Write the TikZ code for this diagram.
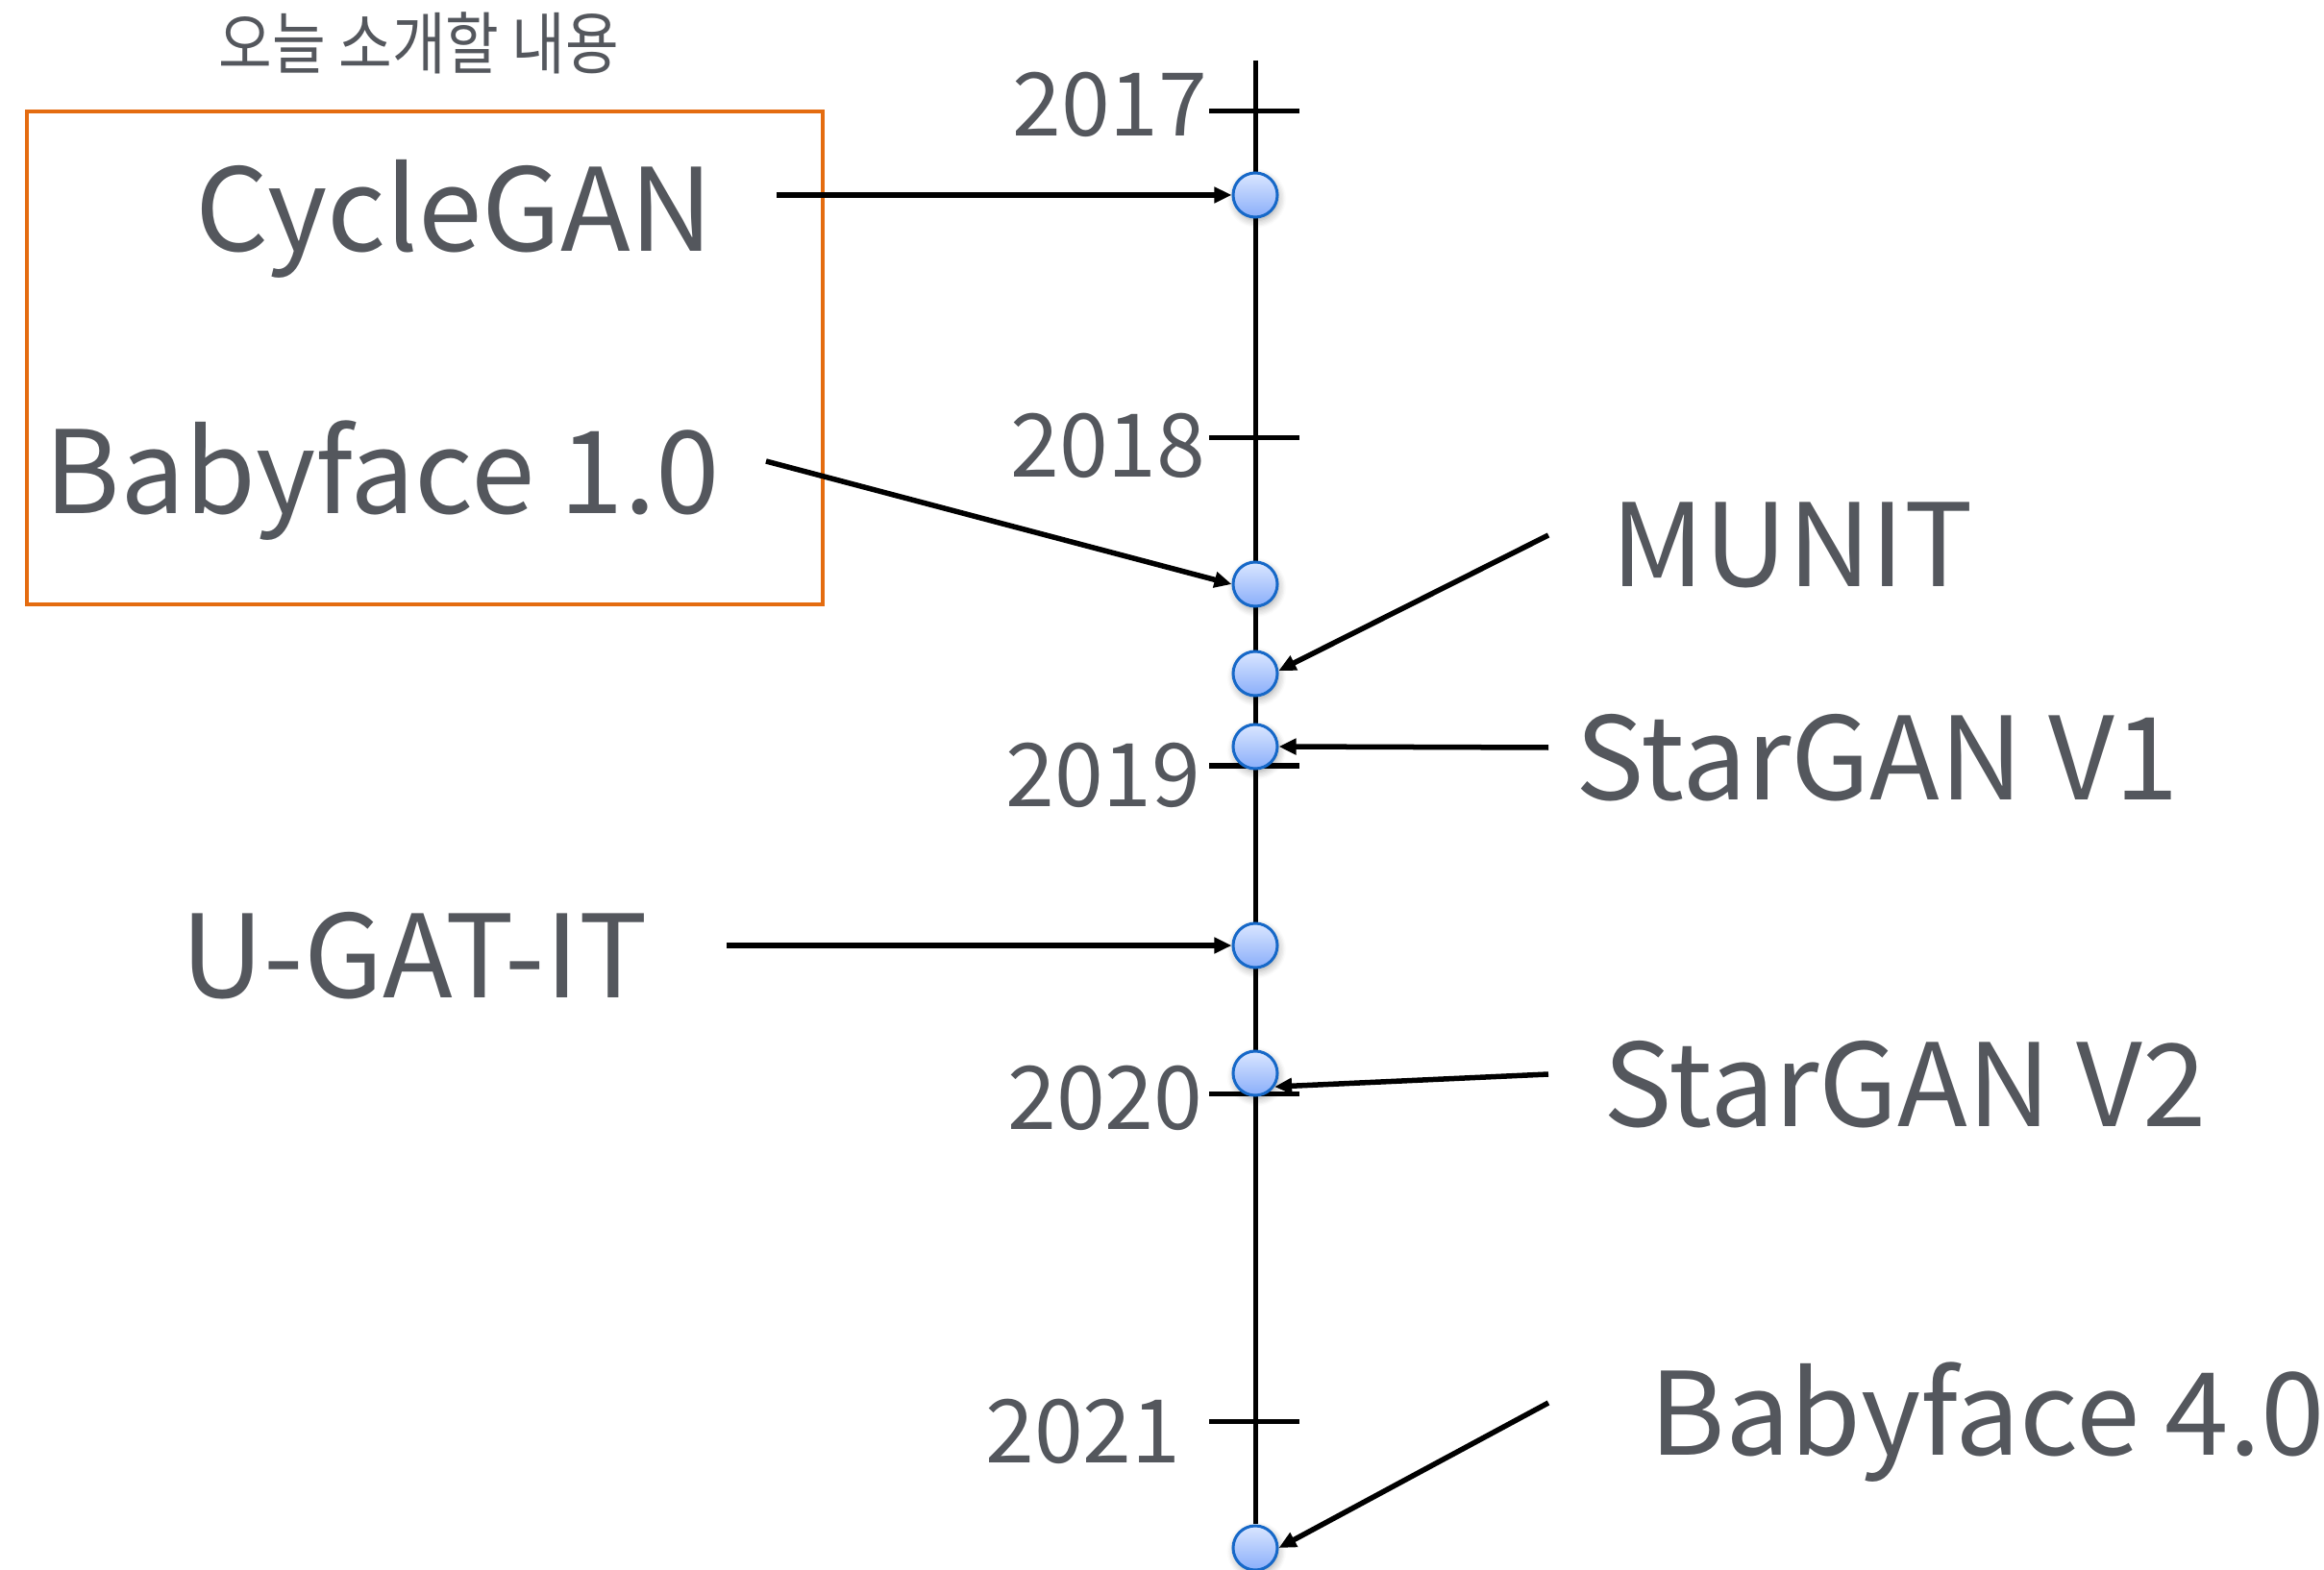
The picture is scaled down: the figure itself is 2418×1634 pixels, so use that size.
\documentclass[tikz,border=0pt]{standalone}
\usepackage{fontspec}
\setmainfont{Noto Sans CJK KR}
\newfontfamily\hangul[FakeStretch=0.86]{Noto Sans CJK KR}
\usetikzlibrary{arrows.meta,shadows.blur}
\definecolor{txt}{RGB}{84,87,93}
\definecolor{frameorange}{RGB}{228,108,16}
\definecolor{dotedge}{RGB}{22,104,200}
\definecolor{dottop}{RGB}{218,230,255}
\definecolor{dotbottom}{RGB}{138,174,250}
\begin{document}
\begin{tikzpicture}[x=0.01cm,y=-0.01cm,
  event/.style={circle, minimum size=0.46cm, inner sep=0pt, line width=0.03cm,
    draw=dotedge, top color=dottop, bottom color=dotbottom,
    blur shadow={shadow xshift=0.4pt, shadow yshift=-1pt, shadow opacity=35, shadow blur steps=6}},
  arr/.style={line width=0.055cm, -{Triangle[length=0.18cm,width=0.16cm]}},
  axisline/.style={line width=0.05cm},
  big/.style={inner sep=0pt, anchor=base west, text=txt, font=\fontsize{34}{40}\selectfont},
  year/.style={inner sep=0pt, anchor=base east, text=txt, font=\fontsize{26}{30}\selectfont}]
\useasboundingbox (0,0) rectangle (2418,1634);

% highlighted group
\draw[frameorange, line width=0.045cm] (28,116) rectangle (856,629);
\node[inner sep=0pt, anchor=base west, text=txt, font=\hangul\fontsize{20}{24}\selectfont] (title) at (227,72) {오늘 소개할 내용};

% time axis
\coordinate (axtop) at (1306,63);
\node[event] (c7) at (1306,1611) {};
\draw[axisline] (axtop) -- (c7);

% year ticks
\foreach \yy in {116,456,797,1138,1479}
  \draw[axisline] (1258,\yy) -- (1352,\yy);
\node[year] (y17) at (1257,142) {2017};
\node[year] (y18) at (1255,497) {2018};
\node[year] (y19) at (1250,840) {2019};
\node[year] (y20) at (1252,1175) {2020};
\node[year] (y21) at (1229,1522) {2021};

% events on the axis
\node[event] (c1) at (1306,203) {};
\node[event] (c2) at (1306,608) {};
\node[event] (c3) at (1306,701) {};
\node[event] (c5) at (1306,777) {};
\node[event] (c4) at (1306,984) {};
\node[event] (c6) at (1306,1117) {};

% labels
\node[big] (cyc) at (203,262) {CycleGAN};
\node[big] (bf1) at (46,535) {Babyface 1.0};
\node[big] (mun) at (1676,611) {MUNIT};
\node[big] (sg1) at (1639,833) {StarGAN V1};
\node[big] (ugt) at (188,1038) {U-GAT-IT};
\node[big] (sg2) at (1668,1172) {StarGAN V2};
\node[big] (bf4) at (1716,1514) {Babyface 4.0};

% arrow tails
\coordinate (s1) at (808,203);
\coordinate (s2) at (797,480);
\coordinate (s3) at (1611,557);
\coordinate (s5) at (1611,778);
\coordinate (s4) at (756,984);
\coordinate (s6) at (1611,1118);
\coordinate (s7) at (1611,1460);

\draw[arr] (s1) -- (c1.west);
\draw[arr] (s2) -- (c2.west);
\draw[arr] (s3) -- (c3.7);
\draw[arr] (s5) -- (c5.east);
\draw[arr] (s4) -- (c4.west);
\draw[arr] (s6) -- (c6.-35);
\draw[arr] (s7) -- (c7.east);
\end{tikzpicture}
\end{document}
